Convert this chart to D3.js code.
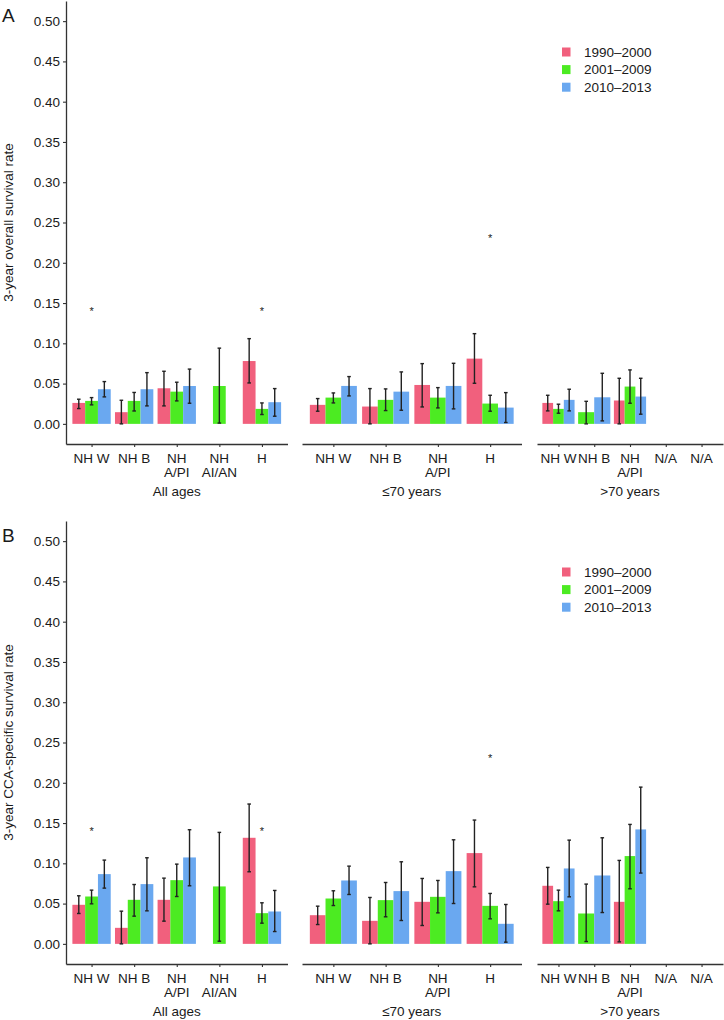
<!DOCTYPE html>
<html><head><meta charset="utf-8">
<script src="https://cdn.jsdelivr.net/npm/d3@7"></script>
<style>
body{margin:0;background:#fff;}
svg text{font-family:"Liberation Sans",Arial,Helvetica,sans-serif;fill:#1a1a1a;}
</style></head>
<body>
<svg id="chart" width="724" height="1020"></svg>
<script>
// ---------- data ----------
const periods = ["1990–2000", "2001–2009", "2010–2013"];
const colors = ["#F1607D", "#4CEB22", "#6AA8F0"];
const facetNames = ["All ages", "≤70 years", ">70 years"];
const catsAll = ["NH W", "NH B", "NH\nA/PI", "NH\nAI/AN", "H"];
const catsLe70 = ["NH W", "NH B", "NH\nA/PI", "H"];
const catsGt70 = ["NH W", "NH B", "NH\nA/PI", "N/A", "N/A "];
const yTicks = [0, 0.05, 0.10, 0.15, 0.20, 0.25, 0.30, 0.35, 0.40, 0.45, 0.50];
const yTitles = ["3-year overall survival rate", "3-year CCA-specific survival rate"];
const panelLetters = ["A", "B"];

// rows = categories, columns = periods; NaN = missing value (slot kept); null = no row (slot removed)
// Panel A: overall survival
const osAllVal = [[0.026, 0.0285, 0.043], [0.0145, 0.0285, 0.043], [0.0442, 0.040, 0.047], [NaN, 0.047, NaN], [0.078, 0.0186, 0.0269]];
const osAllLo  = [[0.019, 0.0236, 0.0335], [0.000, 0.016, 0.0223], [0.0223, 0.0285, 0.0256], [NaN, 0.001, NaN], [0.0508, 0.0116, 0.0095]];
const osAllHi  = [[0.0306, 0.0326, 0.0525], [0.0293, 0.039, 0.0636], [0.0653, 0.0517, 0.068], [NaN, 0.094, NaN], [0.1058, 0.026, 0.0438]];
const osLeVal  = [[0.0236, 0.0326, 0.0471], [0.0215, 0.0298, 0.040], [0.0483, 0.0326, 0.0471], [0.081, 0.0252, 0.0202]];
const osLeLo   = [[0.0157, 0.026, 0.0347], [0.000, 0.0165, 0.0169], [0.021, 0.0198, 0.0186], [0.0504, 0.0157, 0.0017]];
const osLeHi   = [[0.0314, 0.0384, 0.0587], [0.0438, 0.0434, 0.0645], [0.0748, 0.045, 0.0752], [0.112, 0.0355, 0.0388]];
const osGtVal  = [[0.026, 0.0186, 0.0298], [null, 0.0145, 0.033], [0.029, 0.0463, 0.0339], [NaN, NaN, NaN], [NaN, NaN, NaN]];
const osGtLo   = [[0.0161, 0.0132, 0.0161], [null, 0.000, 0.0037], [0.000, 0.0256, 0.012], [NaN, NaN, NaN], [NaN, NaN, NaN]];
const osGtHi   = [[0.0355, 0.0244, 0.043], [null, 0.028, 0.0628], [0.0566, 0.067, 0.0566], [NaN, NaN, NaN], [NaN, NaN, NaN]];
// Panel B: CCA-specific survival
const csAllVal = [[0.0485, 0.0588, 0.0866], [0.0199, 0.0547, 0.0742], [0.0547, 0.0791, 0.1073], [NaN, 0.0713, NaN], [0.1317, 0.0381, 0.0402]];
const csAllLo  = [[0.0377, 0.0497, 0.0692], [0.000, 0.0344, 0.041], [0.0282, 0.0588, 0.0721], [NaN, 0.0033, NaN], [0.0895, 0.0257, 0.0153]];
const csAllHi  = [[0.0597, 0.0667, 0.104], [0.0406, 0.0737, 0.1069], [0.0816, 0.099, 0.1417], [NaN, 0.1384, NaN], [0.1736, 0.051, 0.0663]];
const csLeVal  = [[0.0356, 0.0563, 0.0787], [0.0286, 0.0543, 0.0655], [0.0522, 0.0584, 0.0903], [0.1127, 0.0472, 0.0249]];
const csLeLo   = [[0.024, 0.0476, 0.0613], [0.000, 0.0336, 0.029], [0.0228, 0.0385, 0.0501], [0.0708, 0.0311, 0.0021]];
const csLeHi   = [[0.0468, 0.0659, 0.0965], [0.0576, 0.0762, 0.1019], [0.0812, 0.0787, 0.1292], [0.1537, 0.0626, 0.0489]];
const csGtVal  = [[0.0721, 0.053, 0.0936], [null, 0.0377, 0.0849], [0.0522, 0.109, 0.1421], [NaN, NaN, NaN], [NaN, NaN, NaN]];
const csGtLo   = [[0.0493, 0.041, 0.0584], [null, 0.0029, 0.0389], [0.0025, 0.0684, 0.0879], [NaN, NaN, NaN], [NaN, NaN, NaN]];
const csGtHi   = [[0.0949, 0.0667, 0.1288], [null, 0.0742, 0.1317], [0.1036, 0.1483, 0.1946], [NaN, NaN, NaN], [NaN, NaN, NaN]];
// significance markers: facet index, category index, y position
const starFacet = [0, 0, 1];
const starCat = [0, 4, 3];
const starY = [0.143, 0.143, 0.233];

// ---------- layout ----------
const svg = d3.select("#chart");
const panels = [
  {bottom: 444, sets: [[osAllVal, osAllLo, osAllHi], [osLeVal, osLeLo, osLeHi], [osGtVal, osGtLo, osGtHi]]},
  {bottom: 964, sets: [[csAllVal, csAllLo, csAllHi], [csLeVal, csLeLo, csLeHi], [csGtVal, csGtLo, csGtHi]]}
];
const facetCats = [catsAll, catsLe70, catsGt70];
const facetRanges = [[66, 287.5], [302, 521.5], [537, 723]];
const fs = 13.5;

panels.forEach((p, pi) => {
  const g = svg.append("g");
  const y = d3.scaleLinear().domain([-0.025, 0.525]).range([p.bottom, p.bottom - 443]);

  // y axis
  const yAxis = g.append("g").attr("transform", `translate(${facetRanges[0][0]},0)`)
    .call(d3.axisLeft(y).tickValues(yTicks).tickFormat(d3.format(".2f")).tickSize(3).tickPadding(3).tickSizeOuter(0));
  yAxis.select(".domain").attr("stroke", "#333").attr("stroke-width", 1.3);
  yAxis.selectAll(".tick line").attr("stroke", "#333").attr("stroke-width", 1.1);
  yAxis.selectAll(".tick text").attr("font-size", fs).attr("fill", "#1a1a1a")
    .style("font-family", '"Liberation Sans",Arial,sans-serif');

  // y title
  g.append("text").attr("transform", `translate(13,${y(0.25)}) rotate(-90)`)
    .attr("text-anchor", "middle").attr("font-size", fs).text(yTitles[pi]);
  // panel letter
  g.append("text").attr("x", 2).attr("y", p.bottom - 443 + 21).attr("font-size", 19).text(panelLetters[pi]);

  facetCats.forEach((cats, fi) => {
    const x = d3.scalePoint().domain(cats).range(facetRanges[fi]).padding(0.6);
    const step = x.step();
    const [vals, los, his] = p.sets[fi];
    const fg = g.append("g");

    // bars + error bars
    cats.forEach((c, ci) => {
      const row = vals[ci];
      const present = row.map((v, k) => v === null ? -1 : k).filter(k => k >= 0);
      const n = present.length;
      const w = 0.9 * step / n;
      present.forEach((k, j) => {
        const v = row[k];
        if (Number.isNaN(v)) return;
        const x0 = x(c) - 0.45 * step + j * w;
        fg.append("rect").attr("x", x0).attr("width", w)
          .attr("y", y(v)).attr("height", y(0) - y(v)).attr("fill", colors[k]);
        const xc = x0 + w / 2, lo = los[ci][k], hi = his[ci][k];
        fg.append("line").attr("x1", xc).attr("x2", xc).attr("y1", y(lo)).attr("y2", y(hi))
          .attr("stroke", "#222").attr("stroke-width", 1.4);
        [lo, hi].forEach(e => fg.append("line").attr("x1", xc - 1.8).attr("x2", xc + 1.8)
          .attr("y1", y(e)).attr("y2", y(e)).attr("stroke", "#222").attr("stroke-width", 1.4));
      });
    });

    // x axis
    const xAxis = fg.append("g").attr("transform", `translate(0,${p.bottom})`)
      .call(d3.axisBottom(x).tickSize(3).tickSizeOuter(0).tickFormat(""));
    xAxis.select(".domain").attr("stroke", "#333").attr("stroke-width", 1.3);
    xAxis.selectAll(".tick line").attr("stroke", "#333").attr("stroke-width", 1.1);
    cats.forEach(c => {
      const lines = c.trim().split("\n");
      const t = fg.append("text").attr("text-anchor", "middle").attr("font-size", fs);
      lines.forEach((ln, li) => t.append("tspan").attr("x", x(c)).attr("y", p.bottom + 18.5 + li * 14.7).text(ln));
    });
    // facet label
    fg.append("text").attr("x", (facetRanges[fi][0] + facetRanges[fi][1]) / 2).attr("y", p.bottom + 52)
      .attr("text-anchor", "middle").attr("font-size", fs).text(facetNames[fi]);

    // stars
    starFacet.forEach((sf, si) => {
      if (sf !== fi) return;
      fg.append("text").attr("x", x(cats[starCat[si]])).attr("y", y(starY[si]) + 6)
        .attr("text-anchor", "middle").attr("font-size", 11).text("*");
    });
  });

  // legend
  const lg = g.append("g");
  periods.forEach((pd, k) => {
    const cy = p.bottom - 392 + k * 17.6;
    lg.append("rect").attr("x", 562).attr("y", cy - 4.5).attr("width", 8.5).attr("height", 9).attr("fill", colors[k]);
    lg.append("text").attr("x", 584).attr("y", cy + 4.8).attr("font-size", fs).text(pd);
  });
});
</script>
</body></html>
